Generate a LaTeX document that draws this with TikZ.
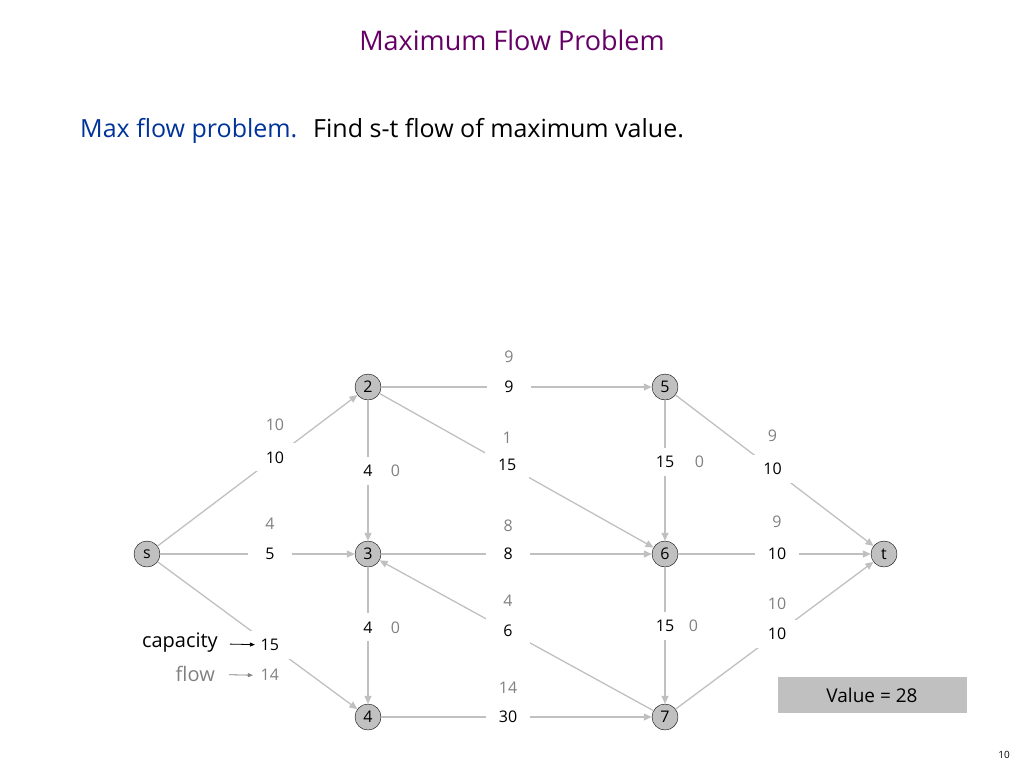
\documentclass[tikz,border=0pt]{standalone}
\usepackage{fontspec}
\setmainfont{Open Sans}
\usetikzlibrary{positioning,arrows.meta}

\definecolor{edgegray}{RGB}{192,192,192}
\definecolor{flowgray}{RGB}{128,128,128}
\definecolor{titlepurple}{RGB}{102,0,102}
\definecolor{subblue}{RGB}{0,51,153}

\tikzset{
  vertex/.style = {circle, draw, fill=edgegray, minimum size=26pt, inner sep=0pt, font=\fontsize{16}{18}\selectfont},
  netedge/.style = {draw=edgegray, line width=1.3pt, -{Triangle[length=8pt,width=7pt]}},
  capbox/.style = {fill=white, minimum width=44pt, minimum height=28pt, inner sep=0pt, font=\fontsize{16}{18}\selectfont},
  flowlabel/.style = {text=flowgray, inner sep=0pt, font=\fontsize{16}{18}\selectfont},
  legendarrow/.style = {-{Triangle[length=5pt,width=4pt]}, line width=0.8pt},
}

\begin{document}
\begin{tikzpicture}[x=1pt, y=-1pt]
      \useasboundingbox (0,0) rectangle (1024,768);

      % titulo
      \node[text=titlepurple, font=\fontsize{27}{30}\selectfont] (title) at (512,40) {Maximum Flow Problem};
      \node[anchor=base west, inner sep=0pt, text=subblue, font=\fontsize{25}{28}\selectfont] (claim) at (80,137) {Max flow problem.};
      \node[anchor=base west, inner sep=0pt, font=\fontsize{25}{28}\selectfont] (task) at (313,137) {Find s-t flow of maximum value.};

      % vertices
      \node[vertex] (s) at (147,554) {s};
      \node[vertex] (n2) at (368,387) {2};
      \node[vertex] (n3) at (368,554) {3};
      \node[vertex] (n4) at (368,717) {4};
      \node[vertex] (n5) at (665,387) {5};
      \node[vertex] (n6) at (665,554) {6};
      \node[vertex] (n7) at (665,717) {7};
      \node[vertex] (t) at (884,554) {t};

      % arestas com capacidade
      \draw[netedge] (s) -- node[capbox, pos=0.587] (cs2) {10} (n2);
      \draw[netedge] (s) -- node[capbox, pos=0.564] (cs3) {5} (n3);
      \draw[netedge] (s) -- node[capbox, pos=0.562] (cs4) {15} (n4);
      \draw[netedge] (n2) -- node[capbox, pos=0.5] (c23) {4} (n3);
      \draw[netedge] (n3) -- node[capbox, pos=0.44] (c34) {4} (n4);
      \draw[netedge] (n2) -- node[capbox, pos=0.472] (c25) {9} (n5);
      \draw[netedge] (n2) -- node[capbox, pos=0.466] (c26) {15} (n6);
      \draw[netedge] (n3) -- node[capbox, pos=0.469] (c36) {8} (n6);
      \draw[netedge] (n7) -- node[capbox, pos=0.531] (c73) {6} (n3);
      \draw[netedge] (n4) -- node[capbox, pos=0.469] (c47) {30} (n7);
      \draw[netedge] (n5) -- node[capbox, pos=0.44] (c56) {15} (n6);
      \draw[netedge] (n6) -- node[capbox, pos=0.43] (c67) {15} (n7);
      \draw[netedge] (n5) -- node[capbox, pos=0.49] (c5t) {10} (t);
      \draw[netedge] (n6) -- node[capbox, pos=0.513] (c6t) {10} (t);
      \draw[netedge] (n7) -- node[capbox, pos=0.513] (c7t) {10} (t);

      % fluxos
      \node[flowlabel, above = 12pt of cs2] (fs2) {10};
      \node[flowlabel, above = 10pt of cs3] (fs3) {4};
      \node[flowlabel, below = 10pt of cs4] (fs4) {14};
      \node[flowlabel, right = 0pt of c23] (f23) {0};
      \node[flowlabel, right = 0pt of c34] (f34) {0};
      \node[flowlabel, above = 9pt of c25] (f25) {9};
      \node[flowlabel, above = 7pt of c26] (f26) {1};
      \node[flowlabel, above = 8pt of c36] (f36) {8};
      \node[flowlabel, above = 9pt of c73] (f73) {4};
      \node[flowlabel, above = 9pt of c47] (f47) {14};
      \node[flowlabel, right = 7pt of c56] (f56) {0};
      \node[flowlabel, right = 1pt of c67] (f67) {0};
      \node[flowlabel, above = 12pt of c5t] (f5t) {9};
      \node[flowlabel, above = 12pt of c6t] (f6t) {9};
      \node[flowlabel, above = 9pt of c7t] (f7t) {10};

      % legenda
      \node[anchor=east, inner sep=0pt, font=\fontsize{20}{22}\selectfont] (capacity) at (218,643) {capacity};
      \node[anchor=east, inner sep=0pt, text=flowgray, font=\fontsize{20}{22}\selectfont] (flowtext) at (215,674) {flow};
      \coordinate (capend) at ([xshift=-15pt]cs4.center);
      \coordinate (flowend) at ([xshift=-17pt]fs4.center);
      \draw[legendarrow, shorten <=12pt] (capacity) -- (capend);
      \draw[legendarrow, flowgray, shorten <=14pt] (flowtext) -- (flowend);

      % valor
      \node[fill=edgegray, minimum width=189pt, minimum height=36pt, font=\fontsize{19}{22}\selectfont] (value) at (872,695) {Value = 28};

      \node[font=\fontsize{10}{12}\selectfont] (page) at (1004,755) {10};
\end{tikzpicture}
\end{document}
